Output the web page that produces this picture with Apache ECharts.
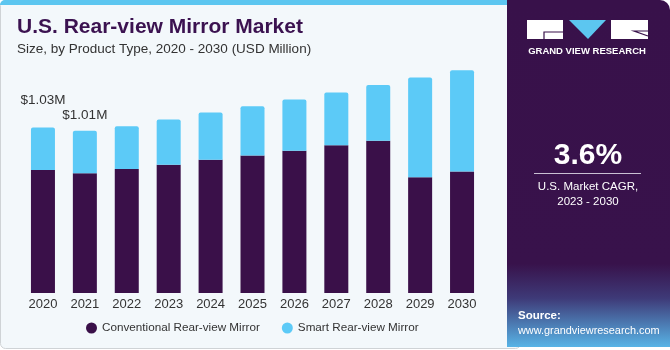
<!DOCTYPE html>
<html>
<head>
<meta charset="utf-8">
<script src="https://cdn.jsdelivr.net/npm/echarts@6/dist/echarts.min.js"></script>
<style>
  html, body { margin: 0; padding: 0; background: #fff; }
  #chart { width: 670px; height: 350px; }
</style>
</head>
<body>
<div id="chart"></div>
<script>
// data (USD million)
var years = ['2020', '2021', '2022', '2023', '2024', '2025', '2026', '2027', '2028', '2029', '2030'];
var conventional = [0.765, 0.745, 0.771, 0.798, 0.829, 0.856, 0.885, 0.920, 0.947, 0.721, 0.756];
var smart = [0.265, 0.265, 0.267, 0.282, 0.294, 0.306, 0.319, 0.328, 0.348, 0.620, 0.630];
var totalLabels = ['$1.03M', '$1.01M'];
var labelGaps = [20, 8];

var dark = '#3a1049';
var blue = '#5ccaf7';
var font = 'Liberation Sans, Arial, sans-serif';

var myChart = echarts.init(document.getElementById('chart'));

// smart series carries the total labels on the first two bars
var smartData = smart.map(function (v, i) {
    if (i < totalLabels.length) {
        return {
            value: v,
            label: { show: true, position: 'top', distance: labelGaps[i], formatter: totalLabels[i] }
        };
    }
    return v;
});

var option = {
    animation: false,
    backgroundColor: '#fff',
    textStyle: { fontFamily: font },
    title: {
        text: 'U.S. Rear-view Mirror Market',
        subtext: 'Size, by Product Type, 2020 - 2030 (USD Million)',
        left: 12,
        top: 12,
        itemGap: 4,
        textStyle: { fontSize: 21, fontWeight: 'bold', color: '#3b1250', fontFamily: font },
        subtextStyle: { fontSize: 13.5, color: '#333', fontFamily: font }
    },
    legend: {
        left: 81,
        top: 317,
        icon: 'circle',
        itemWidth: 11,
        itemHeight: 11,
        itemGap: 22,
        textStyle: { fontSize: 11.7, color: '#333', fontFamily: font },
        data: ['Conventional Rear-view Mirror', 'Smart Rear-view Mirror']
    },
    grid: { left: 22, width: 461, top: 68, bottom: 57 },
    xAxis: {
        type: 'category',
        data: years,
        axisLine: { show: false },
        axisTick: { show: false },
        axisLabel: { fontSize: 13, color: '#333', margin: 5 }
    },
    yAxis: {
        type: 'value',
        min: 0,
        max: 1.4,
        show: false,
        splitLine: { show: false }
    },
    graphic: [
        // left panel
        { type: 'rect', z: -10, shape: { x: 0.5, y: 0.5, width: 520, height: 348, r: 5 },
          style: { fill: '#f3f8fb', stroke: '#cfd3d6', lineWidth: 1 } },
        { type: 'rect', z: -9, shape: { x: 0, y: 0, width: 510, height: 5, r: [5, 0, 0, 0] },
          style: { fill: '#5cc6f0' } },
        // right panel
        { type: 'rect', z: -8, shape: { x: 507, y: 0, width: 163, height: 347, r: [0, 10, 0, 0] },
          style: { fill: new echarts.graphic.LinearGradient(0, 0, 0, 1, [
              { offset: 0, color: '#38114a' },
              { offset: 0.76, color: '#38124b' },
              { offset: 0.86, color: '#3e3a78' },
              { offset: 1, color: '#58b4e6' }
          ]) } },
        // logo
        { type: 'rect', shape: { x: 527, y: 20, width: 36, height: 19 }, style: { fill: '#fff' } },
        { type: 'polyline', shape: { points: [[544, 39], [544, 32], [563, 32]] },
          style: { stroke: '#38114a', lineWidth: 1.2, fill: null } },
        { type: 'polygon', shape: { points: [[569, 20], [606, 20], [588, 39]] }, style: { fill: '#5cc6f0' } },
        { type: 'rect', shape: { x: 611, y: 20, width: 37, height: 19 }, style: { fill: '#fff' } },
        { type: 'polyline', shape: { points: [[648, 31], [634, 31], [648, 36]] },
          style: { stroke: '#38114a', lineWidth: 1.2, fill: null } },
        { type: 'text', x: 587, y: 51,
          style: { text: 'GRAND VIEW RESEARCH', fill: '#fff', font: 'bold 9.5px ' + font,
                   textAlign: 'center', textVerticalAlign: 'middle' } },
        // CAGR
        { type: 'text', x: 588, y: 156,
          style: { text: '3.6%', fill: '#fff', font: 'bold 30px ' + font,
                   textAlign: 'center', textVerticalAlign: 'middle' } },
        { type: 'line', shape: { x1: 534, y1: 173.5, x2: 641, y2: 173.5 },
          style: { stroke: '#c9c0d3', lineWidth: 1 } },
        { type: 'text', x: 588, y: 187,
          style: { text: 'U.S. Market CAGR,', fill: '#fff', font: '11.5px ' + font,
                   textAlign: 'center', textVerticalAlign: 'middle' } },
        { type: 'text', x: 588, y: 202,
          style: { text: '2023 - 2030', fill: '#fff', font: '11.5px ' + font,
                   textAlign: 'center', textVerticalAlign: 'middle' } },
        // source
        { type: 'text', x: 518, y: 316,
          style: { text: 'Source:', fill: '#fff', font: 'bold 11.5px ' + font, textVerticalAlign: 'middle' } },
        { type: 'text', x: 518, y: 331,
          style: { text: 'www.grandviewresearch.com', fill: '#fff', font: '10.9px ' + font, textVerticalAlign: 'middle' } }
    ],
    series: [
        {
            name: 'Conventional Rear-view Mirror',
            type: 'bar',
            stack: 'total',
            barWidth: 24,
            itemStyle: { color: dark },
            data: conventional
        },
        {
            name: 'Smart Rear-view Mirror',
            type: 'bar',
            stack: 'total',
            barWidth: 24,
            itemStyle: { color: blue, borderRadius: [2, 2, 0, 0] },
            label: { color: '#333', fontSize: 13.5, fontFamily: font },
            data: smartData
        }
    ]
};

myChart.setOption(option);
</script>
</body>
</html>
